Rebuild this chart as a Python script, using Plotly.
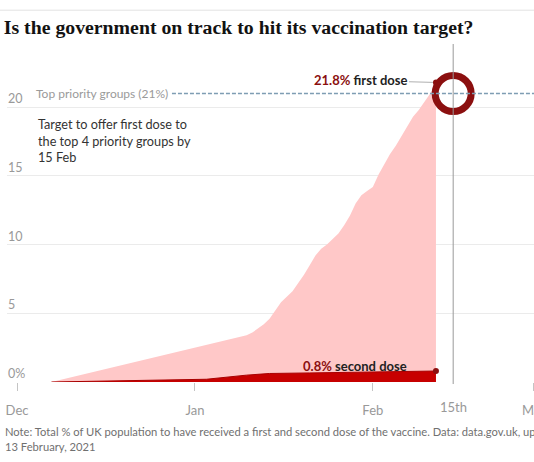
import pandas as pd
import plotly.graph_objects as go

# First dose, % of UK population (cumulative)
first_dates = ["2020-12-07"] + [d.strftime("%Y-%m-%d") for d in pd.date_range("2021-01-10", "2021-02-12")]
first_pct = [0,
             3.4, 3.6, 3.9, 4.2, 4.6, 5.2, 5.8, 6.2, 6.6, 7.2, 7.8, 8.5, 9.2, 9.7,
             10.0, 10.4, 10.8, 11.4, 12.1, 13.0, 13.6, 13.9,
             14.2, 15.1, 15.9, 16.6, 17.2, 17.9, 18.7, 19.3, 19.8, 20.4, 21.0, 21.8]

# Second dose, % of UK population (cumulative)
second_dates = ["2020-12-07", "2021-01-03", "2021-01-10", "2021-01-14", "2021-01-21",
                "2021-01-28", "2021-02-04", "2021-02-12"]
second_pct = [0, 0.2, 0.5, 0.62, 0.66, 0.7, 0.74, 0.8]

target_date = "2021-02-15"
target_pct = 21

tick_dates = ["2020-12-01", "2021-01-01", "2021-02-01", "2021-03-01"]
tick_text = ["Dec", "Jan", "Feb", "Mar"]
y_ticks = [0, 5, 10, 15, 20]
y_text = ["0%", "5", "10", "15", "20"]

SANS = "Lato, 'Open Sans', sans-serif"
PINK = "#ffc8c8"
RED = "#c70000"
DARK = "#8b0f0f"

fig = go.Figure()

fig.add_trace(go.Scatter(x=first_dates, y=first_pct, mode="lines", fill="tozeroy",
                         fillcolor=PINK, line=dict(width=0), hoverinfo="skip"))
fig.add_trace(go.Scatter(x=second_dates, y=second_pct, mode="lines", fill="tozeroy",
                         fillcolor=RED, line=dict(color="#a80000", width=1), hoverinfo="skip"))

# end dots
fig.add_trace(go.Scatter(x=[first_dates[-1], second_dates[-1]], y=[first_pct[-1], second_pct[-1]],
                         mode="markers", marker=dict(size=6, color=DARK)))

# target circle
fig.add_trace(go.Scatter(x=[target_date], y=[target_pct], mode="markers",
                         marker=dict(symbol="circle-open", size=36, color=DARK,
                                     line=dict(width=7, color=DARK))))

# 15 Feb line
fig.add_shape(type="line", xref="x", yref="paper", x0=target_date, x1=target_date,
              y0=-0.006, y1=1, line=dict(color="#999999", width=1))
# priority group line
fig.add_shape(type="line", xref="paper", yref="y", x0=0.313, x1=1,
              y0=target_pct, y1=target_pct, line=dict(color="#7e9db3", width=1.4, dash="4px,2px"))
# rule at top
fig.add_shape(type="line", xref="paper", yref="paper", x0=-0.02, x1=1,
              y0=1.1, y1=1.1, line=dict(color="#e3e3e3", width=1))

# y tick labels sit just above their gridlines, Guardian style
for val, txt in zip(y_ticks, y_text):
    fig.add_annotation(x=0, xref="paper", xshift=-1, y=val, xanchor="left", yanchor="bottom",
                       yshift=-1, text=txt, showarrow=False,
                       font=dict(family=SANS, size=12.5, color="#999999"))

fig.add_annotation(x=0, xref="paper", xshift=27, y=target_pct, xanchor="left", yanchor="middle",
                   text="Top priority groups (21%)", showarrow=False,
                   font=dict(family=SANS, size=12, color="#9a9a9a"))
fig.add_annotation(x=0, xref="paper", xshift=29, y=19.5, xanchor="left", yanchor="top",
                   align="left", showarrow=False,
                   text="Target to offer first dose to<br>the top 4 priority groups by<br>15 Feb",
                   font=dict(family=SANS, size=12.7, color="#333333"))

fig.add_annotation(x=first_dates[-1], y=first_pct[-1], ax=-75, ay=-2,
                   text=f"<b><span style='color:{DARK}'>{first_pct[-1]}%</span> first dose</b>",
                   showarrow=True, arrowhead=0, arrowwidth=1, arrowcolor="#b0b0b0", standoff=3,
                   font=dict(family=SANS, size=13, color="#222222"))
fig.add_annotation(x=second_dates[-1], y=second_pct[-1], xanchor="right", yanchor="middle",
                   xshift=-27, yshift=5, showarrow=False,
                   text=f"<b><span style='color:{DARK}'>{second_pct[-1]}%</span> second dose</b>",
                   font=dict(family=SANS, size=13, color="#222222"))

fig.add_annotation(x=target_date, xref="x", y=-0.074, yref="paper", text="15th", showarrow=False,
                   yanchor="middle", font=dict(family=SANS, size=13, color="#999999"))

fig.add_annotation(x=0, xref="paper", xshift=-4, y=-0.12, yref="paper", xanchor="left", yanchor="top",
                   align="left", showarrow=False,
                   text="Note: Total % of UK population to have received a first and second dose of the vaccine. "
                        "Data: data.gov.uk, updated<br>13 February, 2021",
                   font=dict(family=SANS, size=11.2, color="#707070"))

fig.update_layout(
    width=534, height=462,
    margin=dict(l=7, r=0, t=44, b=80, pad=0),
    paper_bgcolor="white", plot_bgcolor="white",
    showlegend=False,
    title=dict(text="<b>Is the government on track to hit its vaccination target?</b>",
               x=0.007, xanchor="left", y=1 - 27 / 462, yanchor="middle",
               font=dict(family="'Liberation Serif', serif", size=19.8, color="#121212")),
)

fig.update_xaxes(type="date", range=["2020-11-29 06:00", "2021-03-01 02:00"], automargin=False,
                 tickvals=tick_dates, ticktext=tick_text, ticks="outside", ticklen=8, tickwidth=1,
                 tickcolor="#c4c4c4", showgrid=False, zeroline=False, showline=False,
                 ticklabelstandoff=8, ticklabeloverflow="allow",
                 tickfont=dict(family=SANS, size=13, color="#999999"))
fig.update_yaxes(range=[0, 24.6], tickvals=y_ticks, showticklabels=False, automargin=False,
                 showgrid=True, gridcolor="#ebebeb", zeroline=False, showline=False)

fig.write_html("out.html", config={"displayModeBar": False},
               post_script="document.body.style.margin='0';document.body.style.overflow='hidden';")
